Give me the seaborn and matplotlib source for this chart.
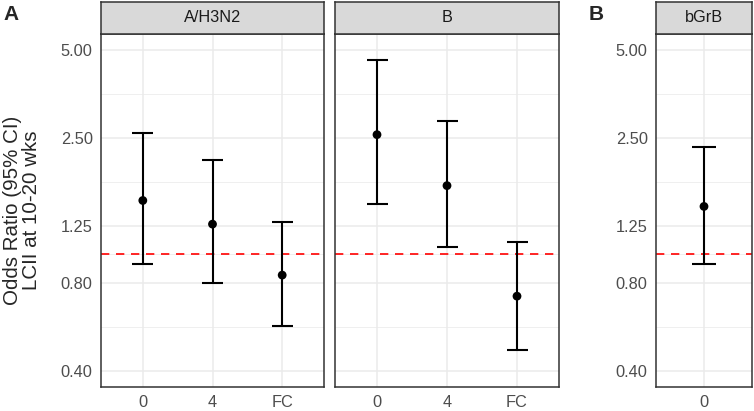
import numpy as np
import pandas as pd
import matplotlib
matplotlib.use("Agg")
import matplotlib.pyplot as plt
import seaborn as sns

# values
strains = ["A/H3N2", "A/H3N2", "A/H3N2", "B", "B", "B", "bGrB"]
groups = ["0", "4", "FC", "0", "4", "FC", "0"]
odds = [1.53, 1.27, 0.85, 2.57, 1.72, 0.72, 1.46]
ci_lo = [0.93, 0.80, 0.57, 1.49, 1.06, 0.47, 0.93]
ci_hi = [2.61, 2.10, 1.29, 4.62, 2.87, 1.10, 2.34]
y_breaks = [0.40, 0.80, 1.25, 2.50, 5.00]

df = pd.DataFrame({"strain": strains, "group": groups,
                   "odds": odds, "lo": ci_lo, "hi": ci_hi})

sns.set_theme(style="white")
plt.rcParams["font.family"] = ["Liberation Sans", "DejaVu Sans"]

W, H = 754, 411
fig = plt.figure(figsize=(W / 100, H / 100), dpi=100)

# panel boxes in pixels: left, right
boxes = {"A/H3N2": (101, 324), "B": (335, 559), "bGrB": (656, 752)}
top, bottom, strip_top = 34, 387, 2

minor = [np.sqrt(a * b) for a, b in zip(y_breaks[:-1], y_breaks[1:])]

for name, (x0, x1) in boxes.items():
    sub = df[df.strain == name].reset_index(drop=True)
    sub["x"] = np.arange(len(sub))
    ax = fig.add_axes([x0 / W, 1 - bottom / H, (x1 - x0) / W, (bottom - top) / H])
    ax.set_yscale("log")
    ax.set_ylim(0.352, 5.68)
    ax.set_xlim(-0.6, len(sub) - 1 + 0.6)

    # grid
    for v in y_breaks:
        ax.axhline(v, color="#EBEBEB", lw=1.1, zorder=0)
    for v in minor:
        ax.axhline(v, color="#EBEBEB", lw=0.55, zorder=0)
    for v in sub["x"]:
        ax.axvline(v, color="#EBEBEB", lw=1.1, zorder=0)

    ax.axhline(1.0, color="red", lw=1.2, dashes=(5, 4), zorder=1)

    ax.vlines(sub["x"], sub["lo"], sub["hi"], color="black", lw=1.5, zorder=2)
    ax.hlines(sub["lo"], sub["x"] - 0.15, sub["x"] + 0.15, color="black", lw=1.5, zorder=2)
    ax.hlines(sub["hi"], sub["x"] - 0.15, sub["x"] + 0.15, color="black", lw=1.5, zorder=2)
    sns.scatterplot(data=sub, x="x", y="odds", ax=ax, color="black", s=40,
                    edgecolor="none", zorder=3, legend=False)

    ax.set_xticks(sub["x"])
    ax.set_xticklabels(sub["group"])
    ax.minorticks_off()
    ax.set_yticks(y_breaks)
    if name == "B":
        ax.set_yticklabels([])
        ax.tick_params(axis="y", length=0)
    else:
        ax.set_yticklabels([f"{v:.2f}" for v in y_breaks])
        ax.tick_params(axis="y", length=4, width=1, color="#333333")
    ax.tick_params(axis="x", length=4, width=1, color="#333333")
    ax.tick_params(labelsize=11.8, labelcolor="#4D4D4D", pad=2)
    ax.set_xlabel("")
    ax.set_ylabel("")
    for sp in ax.spines.values():
        sp.set_color("#333333")
        sp.set_linewidth(1.1)

    sax = fig.add_axes([x0 / W, 1 - top / H, (x1 - x0) / W, (top - strip_top) / H])
    sax.set_facecolor("#D9D9D9")
    sax.set_xticks([])
    sax.set_yticks([])
    for sp in sax.spines.values():
        sp.set_color("#333333")
        sp.set_linewidth(1.1)
    sax.text(0.5, 0.5, name, ha="center", va="center", fontsize=11.7,
             color="#1A1A1A", transform=sax.transAxes)

fig.text(22 / W, 1 - 210 / H, "Odds Ratio (95% CI)\nLCII at 10-20 wks",
         rotation=90, ha="center", va="center", fontsize=14.8, linespacing=1.0)
fig.text(3 / W, 1 - 14 / H, "A", fontsize=15, fontweight="bold", va="center")
fig.text(589 / W, 1 - 14 / H, "B", fontsize=15, fontweight="bold", va="center")

fig.savefig("out.png", dpi=100)
